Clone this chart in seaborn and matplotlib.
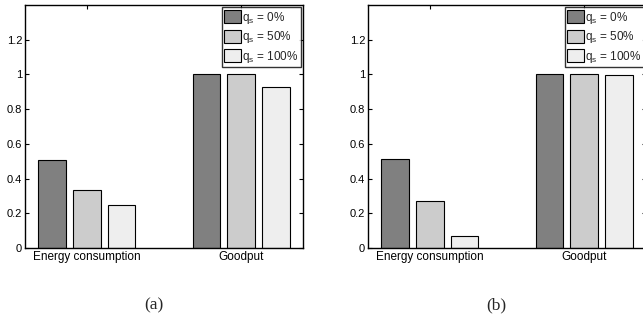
import pandas as pd
import matplotlib
matplotlib.use("Agg")
import matplotlib.pyplot as plt
import seaborn as sns

# ------------------ DATA ------------------
METRICS = ["Energy consumption", "Goodput"]
SHARES = [r"q$_\mathrm{s}$ = 0%", r"q$_\mathrm{s}$ = 50%", r"q$_\mathrm{s}$ = 100%"]

# panel (a)
ENERGY_A = [0.505, 0.335, 0.248]
GOODPUT_A = [1.0, 1.0, 0.93]
# panel (b)
ENERGY_B = [0.51, 0.272, 0.07]
GOODPUT_B = [1.0, 1.0, 0.995]

PANEL_TAGS = ["(a)", "(b)"]
YTICKS = [0, 0.2, 0.4, 0.6, 0.8, 1.0, 1.2]
YTICK_LABELS = ["0", "0.2", "0.4", "0.6", "0.8", "1", "1.2"]
COLORS = ["#808080", "#cccccc", "#eeeeee"]

# ------------------ STYLE ------------------
sns.set_style("white")
plt.rcParams["font.family"] = ["Liberation Sans", "DejaVu Sans"]
plt.rcParams["mathtext.fontset"] = "custom"
plt.rcParams["mathtext.rm"] = "Liberation Sans"
plt.rcParams["mathtext.it"] = "Liberation Sans"


def make_frame(energy, goodput):
    rows = []
    for share, e, g in zip(SHARES, energy, goodput):
        rows.append({"metric": METRICS[0], "share": share, "value": e})
        rows.append({"metric": METRICS[1], "share": share, "value": g})
    return pd.DataFrame(rows)


def draw_panel(ax, df, tag, fig, tag_x):
    sns.barplot(data=df, x="metric", y="value", hue="share", order=METRICS,
                hue_order=SHARES, palette=COLORS, width=0.672, gap=0.2,
                edgecolor="black", linewidth=0.8, saturation=1, ax=ax)
    ax.set_xlim(-0.4, 1.4)
    ax.set_ylim(0, 1.4)
    ax.set_yticks(YTICKS)
    ax.set_yticklabels(YTICK_LABELS)
    ax.set_xlabel("")
    ax.set_ylabel("")
    ax.tick_params(axis="both", direction="in", length=3, width=0.8,
                   labelsize=8, colors="black", pad=2,
                   top=True, right=True, bottom=True, left=True)
    ax.tick_params(axis="x", labelsize=8.5, pad=2)
    for sp in ax.spines.values():
        sp.set_color("black")
        sp.set_linewidth(1.0)

    handles, labels = ax.get_legend_handles_labels()
    leg = ax.legend(handles, labels, loc="upper right", fontsize=8.5,
                    frameon=True, fancybox=False, borderaxespad=0.2,
                    handlelength=1.45, handleheight=1.35, handletextpad=0.1,
                    labelspacing=0.3, borderpad=0.2)
    leg.get_frame().set_edgecolor("black")
    leg.get_frame().set_linewidth(1.0)

    fig.text(tag_x, 1 - 305 / 322, tag, ha="center", va="center",
             fontsize=12.5, family=["Liberation Serif", "DejaVu Serif"])


# ------------------ FIGURE ------------------
fig = plt.figure(figsize=(6.43, 3.22), dpi=100)
ax_a = fig.add_axes([25 / 643, 1 - 248 / 322, 278 / 643, 243 / 322])
ax_b = fig.add_axes([368 / 643, 1 - 248 / 322, 278 / 643, 243 / 322])

draw_panel(ax_a, make_frame(ENERGY_A, GOODPUT_A), PANEL_TAGS[0], fig, 154 / 643)
draw_panel(ax_b, make_frame(ENERGY_B, GOODPUT_B), PANEL_TAGS[1], fig, 496 / 643)

fig.savefig("out.png", dpi=100)
